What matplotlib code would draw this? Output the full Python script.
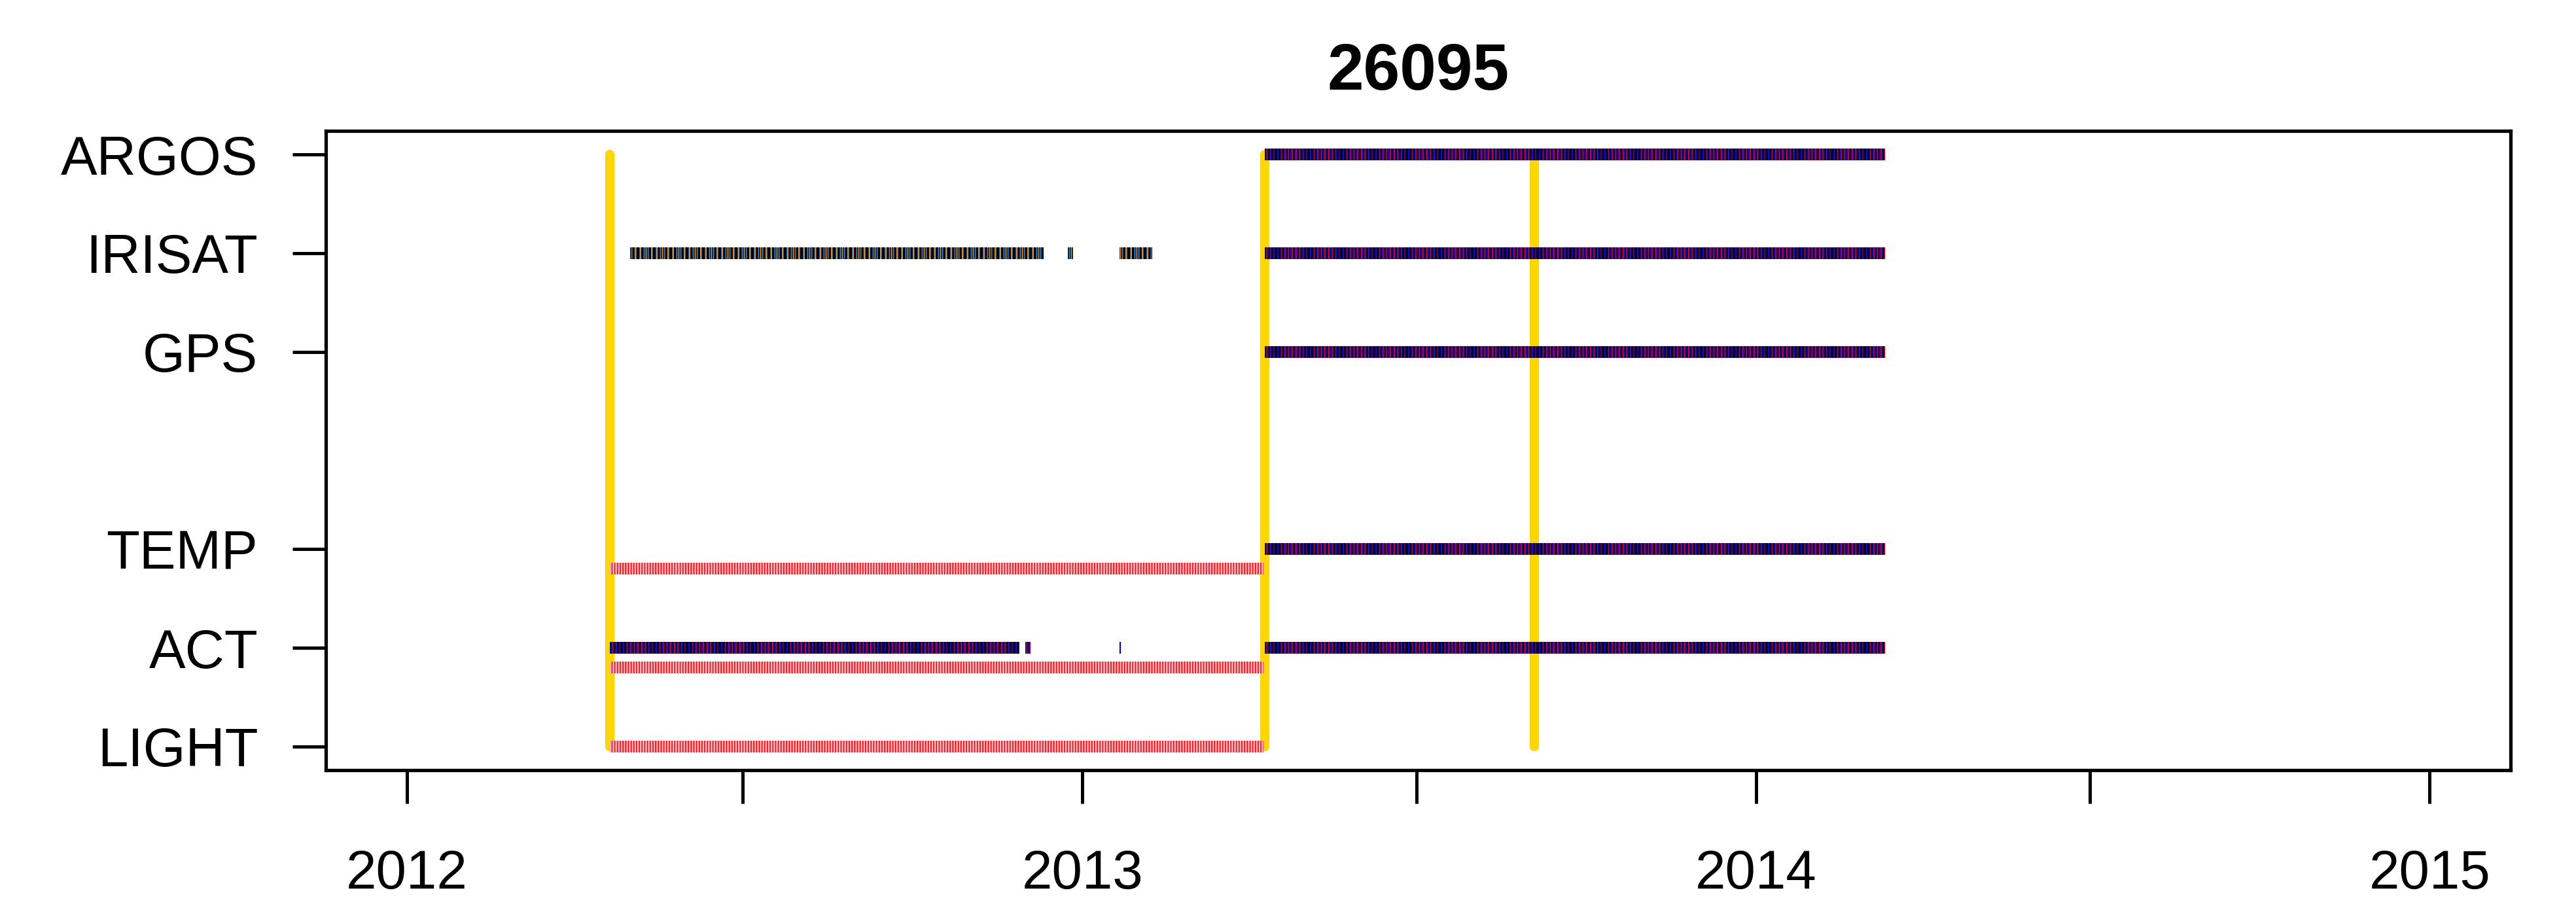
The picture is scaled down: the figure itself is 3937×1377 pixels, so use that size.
import pandas as pd
import matplotlib
matplotlib.use('Agg')
import matplotlib.pyplot as plt
import matplotlib.dates as mdates

plt.rcParams['font.family'] = ['Liberation Sans', 'DejaVu Sans']
plt.rcParams['hatch.linewidth'] = 0.4

# ---- datos del tag ----
tag = '26095'
rows = ['LIGHT', 'ACT', 'TEMP', 'GPS', 'IRISAT', 'ARGOS']
row_y = [1, 2, 3, 5, 6, 7]

# segundo despliegue: todos los sensores
span2 = ('2013-04-10', '2014-03-12')
span2_rows = [7, 6, 5, 3, 2]

# primer despliegue (transmitido)
irisat1 = [('2012-05-01', '2012-12-11'),
           ('2012-12-24', '2012-12-27'),
           ('2013-01-21', '2013-02-08')]
act1 = [('2012-04-20', '2012-11-28'),
        ('2012-12-01', '2012-12-04'),
        ('2013-01-21', '2013-01-22')]

# primer despliegue (datos recuperados del tag)
recup = ('2012-04-20', '2013-04-09')
recup_rows = [2.8, 1.8, 1.0]

# eventos: colocacion / recaptura
eventos = ['2012-04-20', '2013-04-10', '2013-09-03']

# rango de fechas del eje
x_ini, x_fin = '2012-01-01', '2015-01-01'


def tramo(ax, ini, fin, y, cara, rayas):
    x0 = mdates.date2num(pd.Timestamp(ini))
    x1 = mdates.date2num(pd.Timestamp(fin))
    ax.barh(y, x1 - x0, left=x0, height=0.12, color=cara, linewidth=0, zorder=3)
    for col, h in rayas:
        ax.barh(y, x1 - x0, left=x0, height=0.12, facecolor='none',
                edgecolor=col, hatch=h, linewidth=0, zorder=4)


oscuro = ('black', [('red', '|' * 9), ('blue', '|' * 10)])
iris = ('black', [('dodgerblue', '|' * 8), ('darkorange', '|' * 6)])
rosa = ('pink', [('red', '|' * 12)])

fig = plt.figure(figsize=(3937 / 300, 1377 / 300), dpi=300)
ax = fig.add_axes([498 / 3937, 1 - 1177 / 1377, (3837 - 498) / 3937, (1177 - 200) / 1377])
ax.xaxis_date()

ev = [mdates.date2num(pd.Timestamp(d)) for d in eventos]
ax.vlines(ev, 1, 7, color='gold', linewidth=3.4, capstyle='round', zorder=2)

for y in span2_rows:
    tramo(ax, span2[0], span2[1], y, *oscuro)
for a, b in irisat1:
    tramo(ax, a, b, 6, *iris)
for a, b in act1:
    tramo(ax, a, b, 2, *oscuro)
for y in recup_rows:
    tramo(ax, recup[0], recup[1], y, *rosa)

d0 = mdates.date2num(pd.Timestamp(x_ini))
d1 = mdates.date2num(pd.Timestamp(x_fin))
marg = 0.04 * (d1 - d0)
ax.set_xlim(d0 - marg, d1 + marg)
ax.set_ylim(0.76, 7.24)

ax.set_yticks(row_y, rows)
ax.xaxis.set_major_locator(mdates.YearLocator())
ax.xaxis.set_major_formatter(mdates.DateFormatter('%Y'))
ax.xaxis.set_minor_locator(mdates.MonthLocator(bymonth=7))

ax.tick_params(axis='both', which='both', length=12.2, width=1.2,
               direction='out', labelsize=20, colors='black')
ax.tick_params(axis='x', which='major', pad=16.5)
ax.tick_params(axis='y', pad=12.7)
for s in ax.spines.values():
    s.set_linewidth(1.25)

ax.set_title(tag, fontsize=24, fontweight='bold', pad=15)

fig.savefig('out.png', dpi=300)
